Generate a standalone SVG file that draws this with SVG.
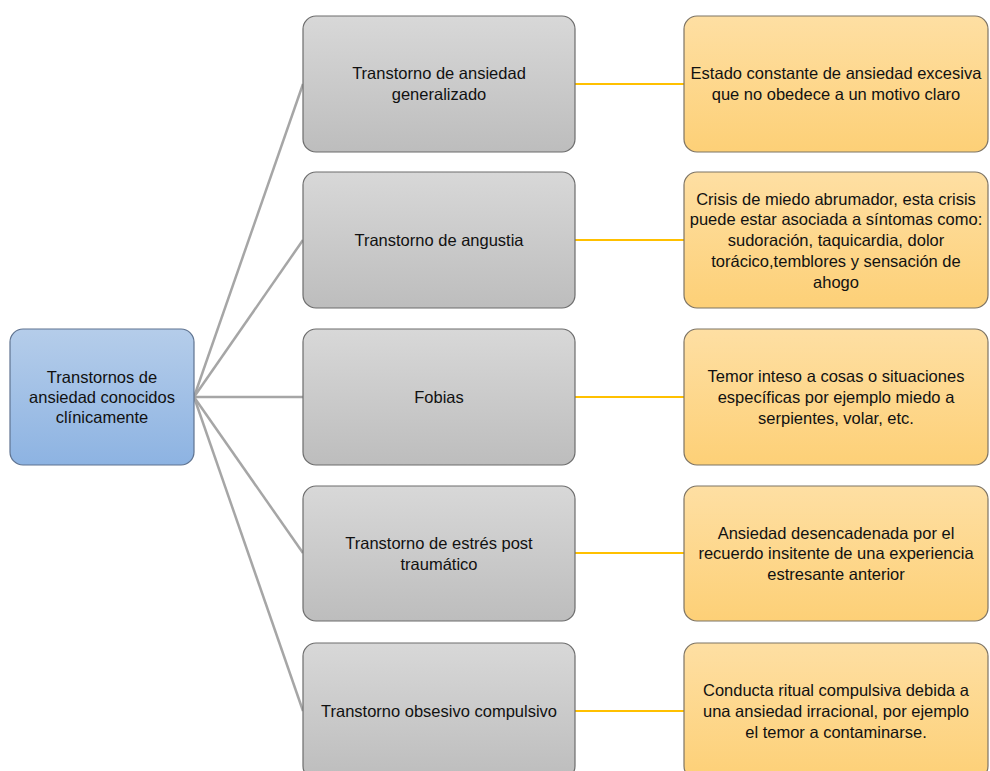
<svg xmlns="http://www.w3.org/2000/svg" width="990" height="771" viewBox="0 0 990 771">
<defs>
<linearGradient id="gBlue" x1="0" y1="0" x2="0" y2="1"><stop offset="0" stop-color="#b5cdea"/><stop offset="1" stop-color="#8db3e2"/></linearGradient>
<linearGradient id="gGray" x1="0" y1="0" x2="0" y2="1"><stop offset="0" stop-color="#d8d8d8"/><stop offset="1" stop-color="#bdbdbd"/></linearGradient>
<linearGradient id="gOr" x1="0" y1="0" x2="0" y2="1"><stop offset="0" stop-color="#fedfa3"/><stop offset="1" stop-color="#fdd077"/></linearGradient>
<style>
text{font-family:"Liberation Sans",Arial,sans-serif;font-size:16.5px;fill:#111;text-anchor:middle}
.blue{fill:url(#gBlue);stroke:#5f7390;stroke-width:1.2}
.gray{fill:url(#gGray);stroke:#6d6d6d;stroke-width:1.2}
.or{fill:url(#gOr);stroke:#7d7465;stroke-width:1.2}
.cg{stroke:#a6a6a6;stroke-width:2.5;fill:none}
.co{stroke:#ffc000;stroke-width:2;fill:none}
</style>
</defs>
<rect width="990" height="771" fill="#fff"/>
<g id="connectors">
<line class="cg" x1="194" y1="397" x2="303" y2="84"/>
<line class="cg" x1="194" y1="397" x2="303" y2="240"/>
<line class="cg" x1="194" y1="397" x2="303" y2="397"/>
<line class="cg" x1="194" y1="397" x2="303" y2="553"/>
<line class="cg" x1="194" y1="397" x2="303" y2="711"/>
<line class="co" x1="575" y1="84" x2="684" y2="84"/>
<line class="co" x1="575" y1="240" x2="684" y2="240"/>
<line class="co" x1="575" y1="397" x2="684" y2="397"/>
<line class="co" x1="575" y1="553" x2="684" y2="553"/>
<line class="co" x1="575" y1="711" x2="684" y2="711"/>
</g>
<g id="root">
<rect class="blue" x="10" y="329" width="184" height="136" rx="13"/>
<text x="102" y="383">Transtornos de</text>
<text x="102" y="403">ansiedad conocidos</text>
<text x="102" y="423">clínicamente</text>
</g>
<g id="n1">
<rect class="gray" x="303" y="16" width="272" height="136" rx="13"/>
<text x="439" y="79">Transtorno de ansiedad</text>
<text x="439" y="100">generalizado</text>
</g>
<g id="n2">
<rect class="gray" x="303" y="172" width="272" height="136" rx="13"/>
<text x="439" y="246">Transtorno de angustia</text>
</g>
<g id="n3">
<rect class="gray" x="303" y="329" width="272" height="136" rx="13"/>
<text x="439" y="403">Fobias</text>
</g>
<g id="n4">
<rect class="gray" x="303" y="486" width="272" height="135" rx="13"/>
<text x="439" y="549">Transtorno de estrés post</text>
<text x="439" y="570">traumático</text>
</g>
<g id="n5">
<rect class="gray" x="303" y="643" width="272" height="136" rx="13"/>
<text x="439" y="717">Transtorno obsesivo compulsivo</text>
</g>
<g id="d1">
<rect class="or" x="684" y="16" width="304" height="136" rx="13"/>
<text x="836" y="79">Estado constante de ansiedad excesiva</text>
<text x="836" y="100">que no obedece a un motivo claro</text>
</g>
<g id="d2">
<rect class="or" x="684" y="172" width="304" height="136" rx="13"/>
<text x="836" y="205">Crisis de miedo abrumador, esta crisis</text>
<text x="836" y="225">puede estar asociada a síntomas como:</text>
<text x="836" y="246">sudoración, taquicardia, dolor</text>
<text x="836" y="267">torácico,temblores y sensación de</text>
<text x="836" y="288">ahogo</text>
</g>
<g id="d3">
<rect class="or" x="684" y="329" width="304" height="136" rx="13"/>
<text x="836" y="382">Temor inteso a cosas o situaciones</text>
<text x="836" y="403">específicas por ejemplo miedo a</text>
<text x="836" y="424">serpientes, volar, etc.</text>
</g>
<g id="d4">
<rect class="or" x="684" y="486" width="304" height="135" rx="13"/>
<text x="836" y="539">Ansiedad desencadenada por el</text>
<text x="836" y="559">recuerdo insitente de una experiencia</text>
<text x="836" y="580">estresante anterior</text>
</g>
<g id="d5">
<rect class="or" x="684" y="643" width="304" height="136" rx="13"/>
<text x="836" y="696">Conducta ritual compulsiva debida a</text>
<text x="836" y="717">una ansiedad irracional, por ejemplo</text>
<text x="836" y="738">el temor a contaminarse.</text>
</g>
</svg>
